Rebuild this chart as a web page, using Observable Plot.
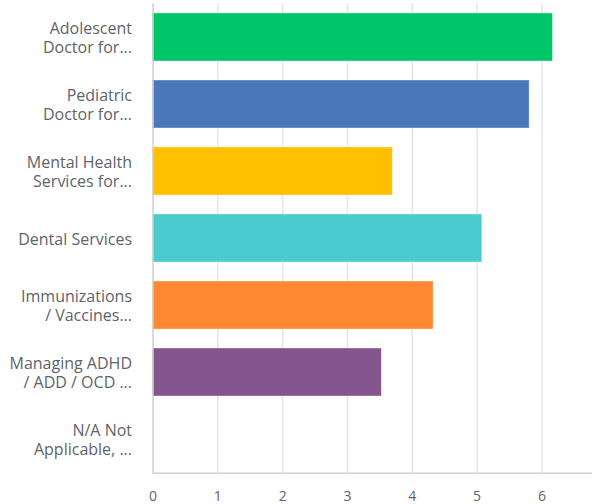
<!DOCTYPE html>
<html>
<head>
<meta charset="utf-8">
<script src="https://cdn.jsdelivr.net/npm/d3@7"></script>
<script src="https://cdn.jsdelivr.net/npm/@observablehq/plot@0.6"></script>
<style>
  html, body { margin: 0; padding: 0; background: #fff; }
  #chart svg { display: block; }
</style>
</head>
<body>
<div id="chart"></div>
<script>
const categories = [
  "Adolescent\nDoctor for...",
  "Pediatric\nDoctor for...",
  "Mental Health\nServices for...",
  "Dental Services",
  "Immunizations\n/ Vaccines...",
  "Managing ADHD\n/ ADD / OCD ...",
  "N/A Not\nApplicable, ..."
];
const values = [6.17, 5.81, 3.70, 5.08, 4.33, 3.53, 0];
const colors = ["#00c66a", "#4a78bb", "#fec000", "#4acbd0", "#ff8833", "#84558f", "#cccccc"];
const xTicks = [0, 1, 2, 3, 4, 5, 6];

const data = categories.map((c, i) => ({category: c, value: values[i], color: colors[i]}));

const chart = Plot.plot({
  width: 592,
  height: 504,
  marginLeft: 152.5,
  marginRight: 0,
  marginTop: 3.3,
  marginBottom: 31.3,
  style: {fontFamily: "'Open Sans', sans-serif", fontSize: "14px", color: "#5f636a", background: "#fff"},
  x: {domain: [0, 6.78], ticks: xTicks},
  y: {domain: categories, paddingInner: 0.28, paddingOuter: 0.14},
  marks: [
    Plot.gridX(xTicks.slice(1), {stroke: "#e6e6e6", strokeWidth: 1.5, strokeOpacity: 1}),
    Plot.barX(data, {x: "value", y: "category", fill: "color", stroke: "#ffffff", strokeOpacity: 0.35, strokeWidth: 1}),
    Plot.ruleX([0], {stroke: "#cfcfcf", strokeWidth: 1.5}),
    Plot.frame({anchor: "bottom", stroke: "#cfcfcf", strokeWidth: 1.5}),
    Plot.axisX(xTicks, {tickSize: 0, tickPadding: 18, label: null, fill: "#5f636a", fontSize: 14}),
    Plot.axisY({tickSize: 0, tickPadding: 21, label: null, fill: "#5f636a", fontSize: 16, lineHeight: 1.19})
  ]
});
document.getElementById("chart").appendChild(chart);
</script>
</body>
</html>
